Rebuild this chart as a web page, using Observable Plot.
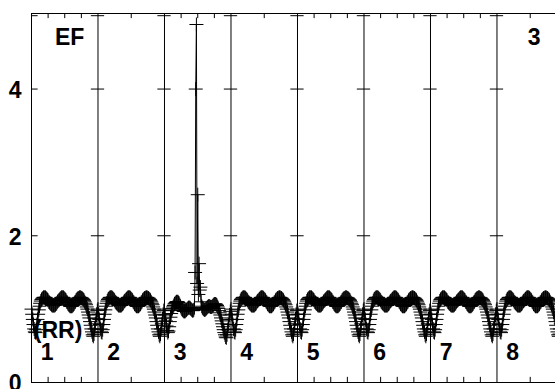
<!DOCTYPE html>
<html><head><meta charset="utf-8">
<script src="https://cdn.jsdelivr.net/npm/d3@7"></script>
<script src="https://cdn.jsdelivr.net/npm/@observablehq/plot@0.6"></script>
<style>html,body{margin:0;padding:0;background:#fff;overflow:hidden}</style>
</head><body><div id="chart"></div>
<script>
// ---- data ----
const panelLabels = ["1", "2", "3", "4", "5", "6", "7", "8"];
const yTickLabels = [0, 2, 4];
const crossTickValues = [2, 4, 5];
const xMinorTicks = [0.25, 0.5, 0.75, 1.5, 2.25, 2.5, 2.75, 3.5, 4.25, 4.5, 4.75, 5.25, 5.5, 5.75, 6.25, 6.5, 6.75, 7.5];
const samplesPerPanel = 100;
// typical panel profile (value at each of 100 evenly spaced samples in a panel)
const typicalProfile = [
  1.00,0.93,0.86,0.79,0.73,0.69,0.68,0.72,0.79,0.86,
  0.93,0.99,1.04,1.08,1.11,1.13,1.14,1.15,1.16,1.16,
  1.16,1.16,1.15,1.14,1.13,1.12,1.10,1.09,1.08,1.07,
  1.06,1.05,1.05,1.05,1.05,1.05,1.06,1.07,1.08,1.10,
  1.11,1.12,1.13,1.14,1.15,1.16,1.16,1.16,1.16,1.15,
  1.14,1.13,1.12,1.10,1.09,1.07,1.06,1.05,1.04,1.04,
  1.04,1.04,1.05,1.06,1.07,1.09,1.10,1.12,1.13,1.14,
  1.15,1.15,1.16,1.16,1.16,1.15,1.15,1.14,1.13,1.12,
  1.10,1.08,1.06,1.03,1.00,0.96,0.92,0.88,0.83,0.78,
  0.73,0.69,0.65,0.63,0.66,0.73,0.80,0.87,0.93,0.98
];
// panel 3 profile (flatter, with the spike)
const panel3Profile = [
  1.00,0.92,0.84,0.77,0.71,0.68,0.70,0.76,0.83,0.89,
  0.94,0.98,1.01,1.03,1.05,1.07,1.08,1.09,1.10,1.10,
  1.10,1.09,1.08,1.06,1.04,1.02,1.00,0.99,0.98,0.97,
  0.97,0.97,0.98,0.99,1.00,1.01,1.02,1.02,1.02,1.01,
  1.00,0.99,0.98,0.98,0.99,1.02,1.50,4.00,4.88,1.35,
  2.56,1.20,1.62,1.26,1.30,1.10,1.04,1.02,1.01,1.00,
  0.99,0.99,1.00,1.01,1.02,1.03,1.04,1.04,1.04,1.03,
  1.03,1.03,1.04,1.05,1.06,1.07,1.07,1.07,1.06,1.05,
  1.03,1.01,0.98,0.95,0.92,0.88,0.84,0.80,0.76,0.72,
  0.68,0.65,0.62,0.61,0.65,0.72,0.79,0.86,0.92,0.97
];
const panelProfiles = [typicalProfile, typicalProfile, panel3Profile, typicalProfile,
                       typicalProfile, typicalProfile, typicalProfile, typicalProfile];

// ---- build table ----
const xMax = 7.88, yMax = 5.03;
const points = [];
panelProfiles.forEach((prof, p) => {
  prof.forEach((v, i) => {
    const x = p + i / samplesPerPanel;
    if (x <= xMax + 0.12) points.push({x, y: v});
  });
});
const crosses = [];
for (let k = 0; k < 8; k++) for (const v of crossTickValues) crosses.push({k, v});

const plusSymbol = {
  draw(ctx, size) {
    const r = Math.sqrt(size / Math.PI);
    ctx.moveTo(-r, 0); ctx.lineTo(r, 0);
    ctx.moveTo(0, -r); ctx.lineTo(0, r);
  }
};

const font = "'Liberation Sans', Arial, sans-serif";
const fs = 23;
const chart = Plot.plot({
  width: 555, height: 389,
  marginLeft: 31, marginRight: 0, marginTop: 13, marginBottom: 7,
  style: {fontFamily: font, background: "white", overflow: "hidden"},
  x: {domain: [0, xMax], axis: null},
  y: {domain: [0, yMax], axis: null},
  marks: [
    Plot.ruleX([0], {stroke: "black"}),
    Plot.ruleY([0, yMax], {stroke: "black"}),
    Plot.ruleX([1, 2, 3, 4, 5, 6, 7], {stroke: "black"}),
    Plot.ruleY(crosses, {y: "v", x1: d => d.k === 0 ? 0 : d.k - 0.1, x2: d => d.k + 0.1, stroke: "black"}),
    Plot.ruleX(xMinorTicks, {y1: 0, y2: 0.07, stroke: "black"}),
    Plot.ruleX(xMinorTicks, {y1: yMax - 0.07, y2: yMax, stroke: "black"}),
    Plot.line(points, {x: "x", y: "y", stroke: "black", strokeWidth: 1}),
    Plot.dot(points, {x: "x", y: "y", symbol: plusSymbol, r: 7, stroke: "black", fill: "none", strokeWidth: 1}),
    Plot.axisY(yTickLabels, {tickSize: 0, tickPadding: 10, tickFormat: d => String(d), fontSize: fs, fontWeight: "bold", fill: "black", dy: 1.5}),
    Plot.text(panelLabels, {x: (d, i) => i + 0.235, y: 0.30, text: d => d, fontSize: fs, fontWeight: "bold", lineAnchor: "bottom", fill: "black"}),
    Plot.text(["(RR)"], {x: 0.40, y: 0.60, text: d => d, fontSize: fs, fontWeight: "bold", lineAnchor: "bottom", fill: "black"}),
    Plot.text(["EF"], {x: 0.573, y: 4.60, text: d => d, fontSize: fs, fontWeight: "bold", lineAnchor: "bottom", fill: "black"}),
    Plot.text(["3"], {x: 7.558, y: 4.60, text: d => d, fontSize: fs, fontWeight: "bold", lineAnchor: "bottom", fill: "black"})
  ]
});
document.getElementById("chart").appendChild(chart);
</script>
</body></html>
